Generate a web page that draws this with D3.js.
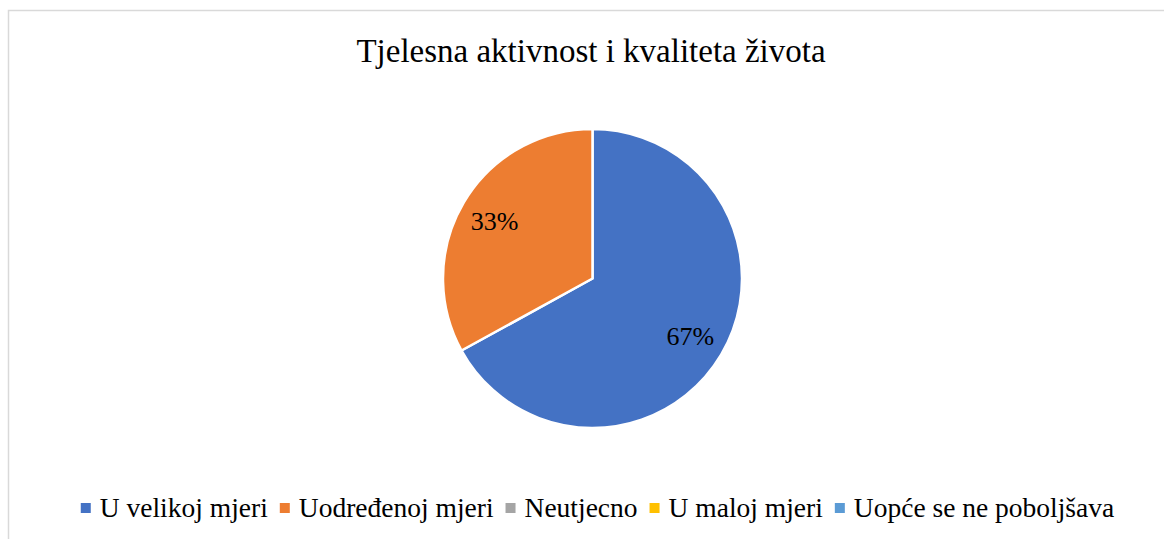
<!DOCTYPE html>
<html>
<head>
<meta charset="utf-8">
<script src="https://cdn.jsdelivr.net/npm/d3@7"></script>
<style>
  html, body { margin: 0; padding: 0; background: #fff; }
  svg { display: block; }
</style>
</head>
<body>
<div id="chart"></div>
<script>
// podaci
const categories = ["U velikoj mjeri", "Uodređenoj mjeri", "Neutjecno", "U maloj mjeri", "Uopće se ne poboljšava"];
const values = [67, 33, 0, 0, 0];
const colors = ["#4472C4", "#ED7D31", "#A5A5A5", "#FFC000", "#5B9BD5"];
const title = "Tjelesna aktivnost i kvaliteta života";

const width = 1164, height = 539;
const font = "'Liberation Serif', 'Times New Roman', serif";

const svg = d3.select("#chart").append("svg")
  .attr("width", width)
  .attr("height", height);

// okvir grafikona
svg.append("rect")
  .attr("x", 8.5).attr("y", 10.5)
  .attr("width", 1170).attr("height", 560)
  .attr("fill", "#fff")
  .attr("stroke", "#d9d9d9")
  .attr("stroke-width", 1.5);

// naslov
svg.append("text")
  .attr("x", 591)
  .attr("y", 62)
  .attr("text-anchor", "middle")
  .attr("font-family", font)
  .attr("font-size", 33)
  .attr("fill", "#000")
  .text(title);

// pita
const cx = 592.5, cy = 278.5, r = 149.5;
const data = categories.map((c, i) => ({ name: c, value: values[i], color: colors[i] }));

const pie = d3.pie().sort(null).value(d => d.value);
const arc = d3.arc().innerRadius(0).outerRadius(r);
const labelArc = d3.arc().innerRadius(r * 0.76).outerRadius(r * 0.76);

const g = svg.append("g").attr("transform", `translate(${cx},${cy})`);
const arcs = pie(data).filter(d => d.data.value > 0);

g.selectAll("path")
  .data(arcs)
  .join("path")
  .attr("d", arc)
  .attr("fill", d => d.data.color)
  .attr("stroke", "#fff")
  .attr("stroke-width", 2.5)
  .attr("stroke-linejoin", "round");

g.selectAll("text")
  .data(arcs)
  .join("text")
  .attr("transform", d => `translate(${labelArc.centroid(d)})`)
  .attr("text-anchor", "middle")
  .attr("dy", "0.35em")
  .attr("font-family", font)
  .attr("font-size", 26)
  .attr("fill", "#000")
  .text(d => d3.format(".0%")(d.data.value / d3.sum(values)));

// legenda
const legend = svg.append("g");
const items = legend.selectAll("g")
  .data(data)
  .join("g");

items.append("rect")
  .attr("width", 10).attr("height", 10)
  .attr("y", -14)
  .attr("fill", d => d.color);

items.append("text")
  .attr("x", 19)
  .attr("font-family", font)
  .attr("font-size", 27.5)
  .attr("fill", "#000")
  .text(d => d.name);

let x = 0;
items.each(function() {
  const w = 19 + d3.select(this).select("text").node().getComputedTextLength();
  d3.select(this).attr("transform", `translate(${x},0)`);
  x += w + 12;
});
const total = x - 12;
legend.attr("transform", `translate(${597.5 - total / 2},517)`);
</script>
</body>
</html>
